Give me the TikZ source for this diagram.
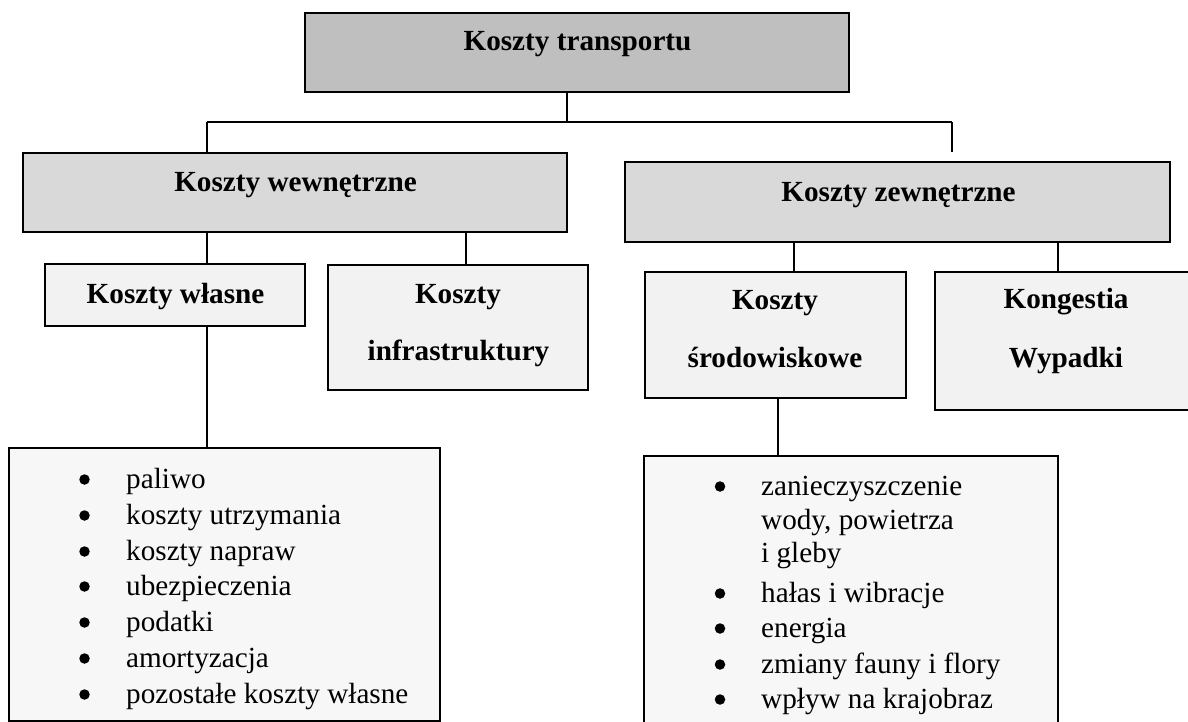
\documentclass[tikz,border=0pt]{standalone}
\usepackage{fontspec}
\setmainfont{Liberation Serif}
\begin{document}
\begin{tikzpicture}[x=1pt,y=-1pt,
  box/.style={draw=black, line width=1.5pt, inner sep=0pt, outer sep=0pt},
  conn/.style={draw=black, line width=1.5pt},
  lvlA/.style={box, fill=black!25},
  lvlB/.style={box, fill=black!15},
  lvlC/.style={box, fill=black!5},
  lvlD/.style={box, fill=black!3},
  head/.style={font=\fontsize{29.2}{34}\selectfont\bfseries, anchor=base, inner sep=0pt},
  item/.style={font=\fontsize{29.2}{34}\selectfont, anchor=base west, inner sep=0pt},
  bul/.style={circle, fill=black, draw=none, minimum size=10.5pt, inner sep=0pt}]
\useasboundingbox (0,0) rectangle (1188,722);
\clip (0,0) rectangle (1188,722);

% boxes
\node[lvlA, minimum width=544pt, minimum height=79pt] (top) at (577,52.5) {};
\node[lvlB, minimum width=544pt, minimum height=79pt] (wew) at (295,192.5) {};
\node[lvlB, minimum width=545pt, minimum height=80pt] (zew) at (897.5,202) {};
\node[lvlC, minimum width=260pt, minimum height=62pt] (wl) at (175,295) {};
\node[lvlC, minimum width=260pt, minimum height=125pt] (inf) at (458,327.5) {};
\node[lvlC, minimum width=261pt, minimum height=126pt] (sr) at (775.5,335) {};
\node[lvlC, minimum width=262pt, minimum height=138pt] (kon) at (1066,341) {};
\node[lvlD, minimum width=431pt, minimum height=273pt] (listL) at (224.5,584.5) {};
\node[lvlD, minimum width=414pt, minimum height=294pt] (listR) at (851,603) {};

% headings
\node[head] (tTop) at (577.5,51) {Koszty transportu};
\node[head] (tWew) at (295.5,192) {Koszty wewnętrzne};
\node[head] (tZew) at (898.5,201) {Koszty zewnętrzne};
\node[head] (tWl) at (175.5,303) {Koszty własne};
\node[head] (tInf1) at (458,303) {Koszty};
\node[head] (tInf2) at (458.5,360) {infrastruktury};
\node[head] (tSr1) at (775,309) {Koszty};
\node[head] (tSr2) at (775,367) {środowiskowe};
\node[head] (tKon1) at (1066,308) {Kongestia};
\node[head] (tKon2) at (1066,367) {Wypadki};

% left list
\foreach \y/\t [count=\i] in {488/paliwo, 524/koszty utrzymania, 560/koszty napraw, 595/ubezpieczenia, 631/podatki, 667/amortyzacja, 703/pozostałe koszty własne}{
  \node[bul] (bl\i) at (84.5,\y-8.5) {};
  \node[item] (il\i) at (126,\y) {\t};
}

% right list
\foreach \y/\t [count=\i] in {495/zanieczyszczenie, 602/hałas i wibracje, 637/energia, 673/zmiany fauny i flory, 708/wpływ na krajobraz}{
  \node[bul] (br\i) at (720,\y-8.5) {};
  \node[item] (ir\i) at (761,\y) {\t};
}
\node[item] (irA) at (761,529) {wody, powietrza};
\node[item] (irB) at (761,562) {i gleby};

% connectors
\coordinate (busL) at (207,122);
\coordinate (busM) at (567,122);
\coordinate (busR) at (952,122);
\coordinate (zewtick) at (952,152);
\coordinate (xInf) at (466,0);
\coordinate (xSr) at (794,0);
\coordinate (xKon) at (1058,0);
\coordinate (xSrL) at (778,0);

\draw[conn] (top.south -| busM) -- (busM);
\draw[conn] (busL) -- (busR);
\draw[conn] (busL) -- (wew.north -| busL);
\draw[conn] (busR) -- (zewtick);
\draw[conn] (wew.south -| busL) -- (wl.north -| busL);
\draw[conn] (wew.south -| xInf) -- (inf.north -| xInf);
\draw[conn] (wl.south -| busL) -- (listL.north -| busL);
\draw[conn] (zew.south -| xSr) -- (sr.north -| xSr);
\draw[conn] (zew.south -| xKon) -- (kon.north -| xKon);
\draw[conn] (sr.south -| xSrL) -- (listR.north -| xSrL);
\end{tikzpicture}
\end{document}
